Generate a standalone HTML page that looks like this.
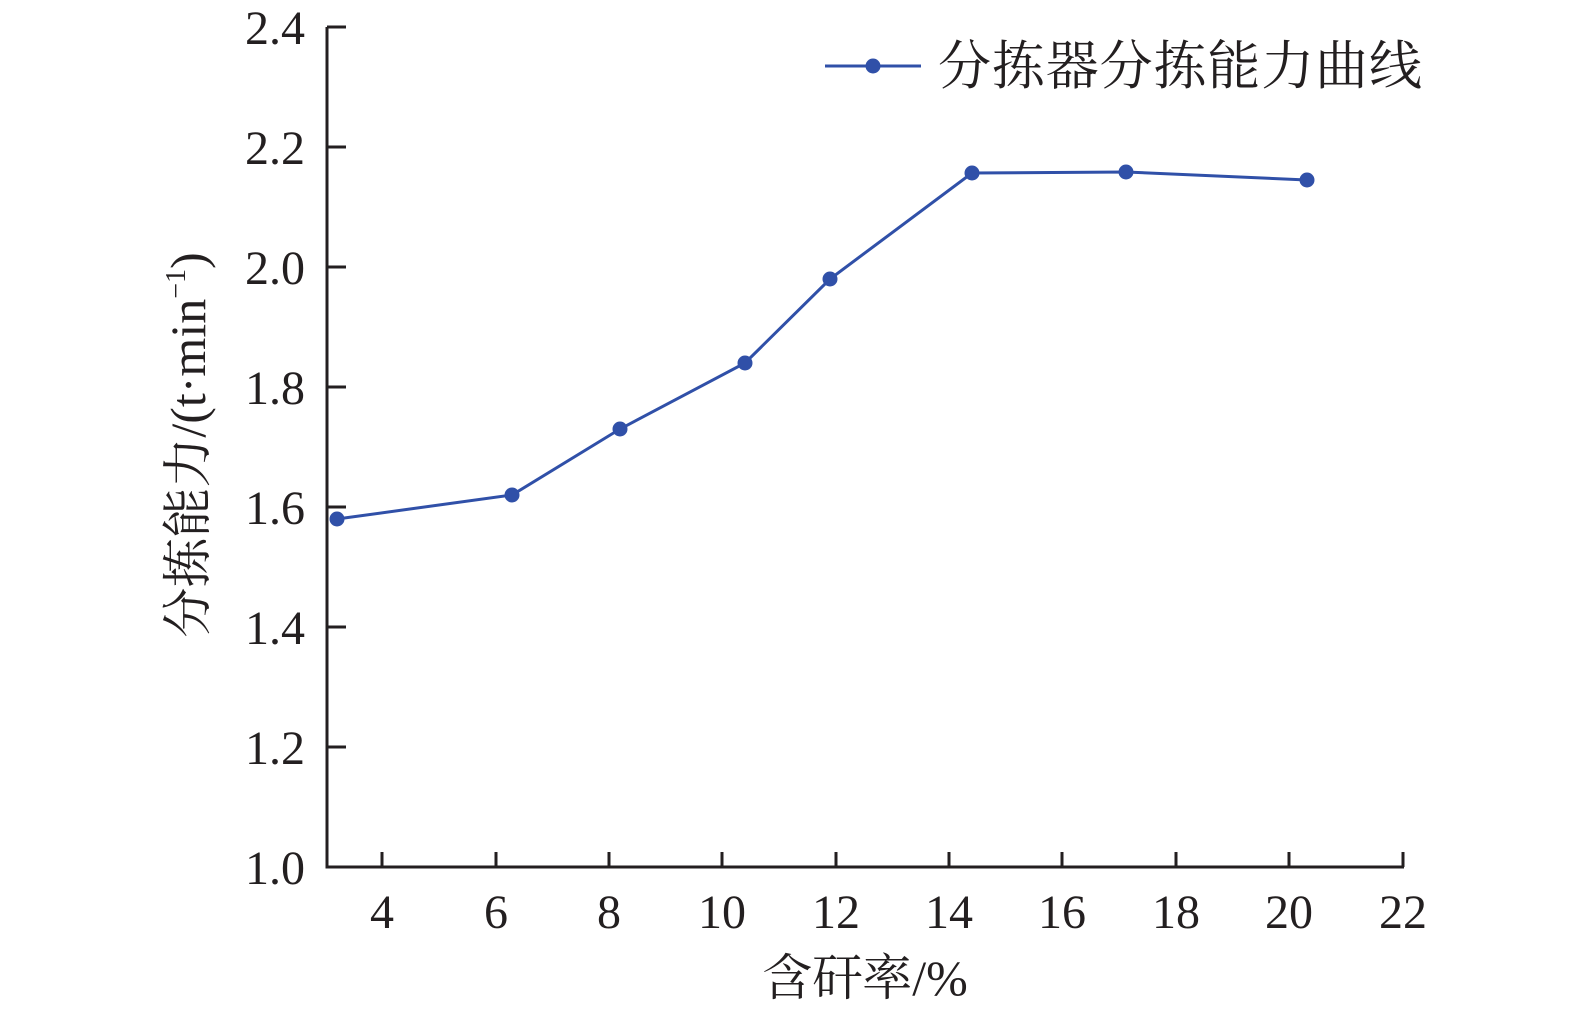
<!DOCTYPE html>
<html><head><meta charset="utf-8"><style>body{margin:0;background:#fff}</style></head><body>
<svg width="1575" height="1017" xmlns="http://www.w3.org/2000/svg" font-family="Liberation Serif, Noto Serif CJK SC, serif" fill="#231f20">
<g stroke="#231f20" stroke-width="3" fill="none">
<path d="M327,27 V867 H1404"/>
<path d="M327,27h19M327,147h19M327,267h19M327,387h19M327,507h19M327,627h19M327,747h19"/>
<path d="M382,867v-15M496,867v-15M609,867v-15M722,867v-15M836,867v-15M949,867v-15M1062,867v-15M1176,867v-15M1289,867v-15M1403,867v-15"/>
</g>
<g font-size="48" text-anchor="end">
<text x="305" y="44">2.4</text><text x="305" y="164">2.2</text><text x="305" y="284">2.0</text><text x="305" y="404">1.8</text><text x="305" y="524">1.6</text><text x="305" y="644">1.4</text><text x="305" y="764">1.2</text><text x="305" y="884">1.0</text>
</g>
<g font-size="48" text-anchor="middle">
<text x="382" y="928">4</text><text x="496" y="928">6</text><text x="609" y="928">8</text><text x="722" y="928">10</text><text x="836" y="928">12</text><text x="949" y="928">14</text><text x="1062" y="928">16</text><text x="1176" y="928">18</text><text x="1289" y="928">20</text><text x="1403" y="928">22</text>
</g>
<text x="865" y="995" font-size="50" text-anchor="middle">含矸率/%</text>
<text transform="translate(205,445) rotate(-90)" font-size="50" text-anchor="middle">分拣能力/(t·min<tspan font-size="28" dy="-20">−1</tspan><tspan dy="20">)</tspan></text>
<polyline points="337,519 512,495 620,429 745,363 830,279 972,173 1126,172 1307,180" fill="none" stroke="#3050a8" stroke-width="3"/>
<g fill="#3050a8">
<circle cx="337" cy="519" r="7.5"/><circle cx="512" cy="495" r="7.5"/><circle cx="620" cy="429" r="7.5"/><circle cx="745" cy="363" r="7.5"/><circle cx="830" cy="279" r="7.5"/><circle cx="972" cy="173" r="7.5"/><circle cx="1126" cy="172" r="7.5"/><circle cx="1307" cy="180" r="7.5"/>
<circle cx="873" cy="66" r="7.5"/>
</g>
<line x1="825" y1="66" x2="921" y2="66" stroke="#3050a8" stroke-width="3"/>
<text x="938" y="84" font-size="53" textLength="484" lengthAdjust="spacing">分拣器分拣能力曲线</text>
</svg>
</body></html>
